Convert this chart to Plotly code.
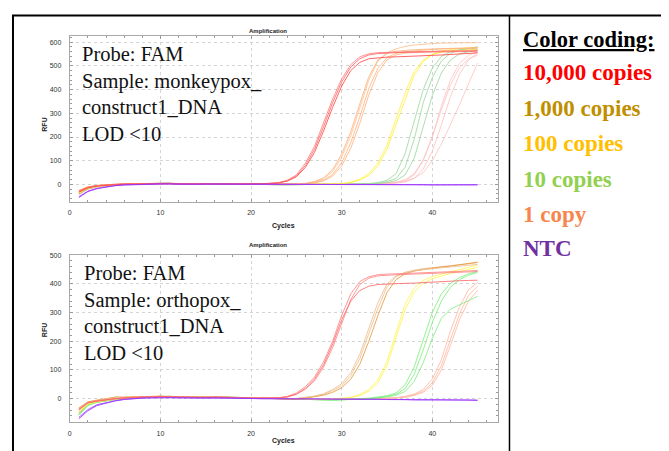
import plotly.graph_objects as go

# page body adds an 8px margin; the figure is offset to compensate
OFF = 8
W, H = 669 - OFF, 451 - OFF

cycles = list(range(1, 46))

# ---------------- Monkeypox construct (top panel) ----------------
mpx_10000_a = [-30, -13, -6, -2, 0, 1, 2, 3, 4,
               5, 4, 2, 1, 2, 3, 3, 2, 2,
               1, 2, 3, 4, 7, 18, 40, 90, 160,
               258, 360, 445, 505, 538, 551, 556, 558, 559,
               559, 560, 560, 561, 561, 562, 563, 564, 565]
mpx_10000_b = [-33, -15, -7, -3, -1, 1, 2, 3, 4,
               6, 5, 3, 1, 2, 3, 2, 2, 1,
               1, 2, 2, 4, 6, 14, 32, 72, 135,
               225, 325, 415, 480, 515, 530, 535, 537, 538,
               539, 540, 542, 544, 546, 548, 550, 552, 555]
mpx_10000_c = [-28, -12, -5, -1, 1, 2, 3, 3, 5,
               6, 4, 2, 2, 3, 3, 2, 1, 2,
               2, 3, 3, 5, 7, 15, 35, 80, 148,
               243, 345, 432, 495, 530, 546, 552, 555, 556,
               557, 557, 558, 558, 559, 560, 560, 561, 562]

mpx_1000_a = [-25, -10, -4, -1, 1, 2, 3, 4, 5,
              6, 5, 3, 2, 3, 4, 3, 2, 2,
              1, 1, 2, 2, 2, 3, 3, 4, 10,
              24, 55, 115, 205, 320, 440, 520, 555, 572,
              582, 588, 592, 594, 596, 597, 597, 598, 598]
mpx_1000_b = [-27, -11, -5, -2, 0, 2, 3, 3, 4,
              5, 4, 3, 2, 2, 3, 3, 2, 1,
              1, 1, 1, 2, 2, 2, 3, 4, 8,
              18, 42, 92, 175, 285, 405, 490, 535, 553,
              560, 564, 567, 569, 571, 572, 573, 574, 575]
mpx_1000_c = [-26, -10, -4, -1, 1, 2, 2, 3, 4,
              5, 4, 2, 1, 2, 3, 2, 2, 1,
              1, 0, 1, 1, 2, 2, 2, 3, 7,
              15, 35, 78, 152, 258, 378, 472, 525, 546,
              554, 557, 559, 561, 563, 564, 566, 567, 568]
mpx_1000_d = [-29, -12, -5, -2, 0, 1, 3, 3, 4,
              5, 5, 3, 2, 2, 3, 3, 2, 2,
              1, 1, 1, 2, 2, 3, 3, 5, 12,
              28, 62, 128, 222, 340, 455, 525, 552, 562,
              566, 568, 570, 572, 573, 574, 575, 576, 578]

mpx_100_a = [-35, -15, -7, -3, -1, 1, 2, 3, 4,
             5, 4, 3, 2, 2, 3, 3, 2, 1,
             1, 1, 0, 0, 1, 1, 1, 1, 1,
             1, 2, 3, 10, 22, 45, 90, 165, 275,
             385, 475, 525, 548, 558, 562, 565, 567, 570]
mpx_100_b = [-37, -16, -8, -3, -1, 1, 2, 2, 3,
             5, 4, 2, 1, 2, 3, 2, 2, 1,
             0, 0, 0, 0, 0, 1, 1, 1, 1,
             1, 1, 3, 8, 18, 38, 78, 148, 252,
             365, 460, 518, 548, 562, 569, 573, 576, 578]

mpx_10_a = [-38, -17, -8, -3, -1, 1, 2, 3, 4,
            6, 5, 3, 2, 3, 4, 3, 2, 1,
            1, 0, 0, -1, -1, -1, -1, 0, 0,
            0, 0, 0, 1, 2, 4, 8, 18, 45,
            130, 270, 400, 490, 540, 560, 568, 572, 575]
mpx_10_b = [-40, -18, -9, -4, -2, 0, 2, 3, 4,
            5, 4, 3, 2, 2, 3, 3, 2, 1,
            0, 0, -1, -1, -1, -1, -1, -1, 0,
            0, 0, 0, 1, 2, 3, 5, 12, 25,
            72, 190, 345, 450, 520, 553, 567, 575, 581]
mpx_10_c = [-36, -16, -7, -3, -1, 1, 2, 3, 5,
            6, 5, 3, 2, 2, 3, 2, 2, 1,
            0, 0, 0, -1, -1, -1, 0, 0, 0,
            0, 0, 0, 1, 1, 2, 4, 8, 16,
            40, 110, 240, 375, 470, 525, 550, 560, 565]

mpx_1_a = [-42, -19, -9, -4, -2, 0, 2, 3, 4,
           5, 4, 3, 2, 2, 3, 3, 2, 1,
           0, 0, 0, 0, -1, -1, -1, 0, 0,
           0, 0, 0, 1, 1, 2, 3, 4, 6,
           15, 40, 100, 200, 330, 440, 510, 545, 560]
mpx_1_b = [-44, -20, -10, -5, -2, 0, 1, 3, 4,
           5, 4, 2, 1, 2, 3, 2, 2, 1,
           0, 0, 0, -1, -1, -1, -1, -1, 0,
           0, 0, 0, 0, 1, 1, 2, 3, 5,
           10, 25, 65, 140, 250, 370, 465, 525, 555]
mpx_1_c = [-41, -18, -9, -4, -2, 0, 2, 3, 4,
           6, 5, 3, 2, 2, 3, 3, 2, 1,
           1, 0, 0, 0, -1, -1, 0, 0, 0,
           0, 0, 0, 1, 1, 2, 3, 5, 9,
           20, 45, 105, 200, 315, 420, 492, 530, 545]
mpx_1_d = [-43, -19, -10, -4, -2, 0, 1, 2, 4,
           5, 4, 2, 1, 2, 3, 2, 1, 1,
           0, 0, 0, -1, -1, -1, -1, 0, 0,
           0, 0, 0, 1, 1, 2, 3, 5, 9,
           14, 26, 50, 100, 170, 250, 335, 425, 512]

mpx_ntc_a = [-55, -30, -18, -10, -5, -2, 0, 1, 2,
             3, 2, 1, 1, 1, 2, 2, 1, 1,
             1, 0, 0, 0, 0, 0, 0, 0, 0,
             -1, -1, 0, -1, -1, 0, -1, -1, -1,
             0, -1, -1, -2, -1, -1, -2, -1, -1]
mpx_ntc_b = [-52, -28, -16, -9, -5, -2, -1, 1, 2,
             2, 2, 1, 0, 1, 1, 1, 1, 0,
             0, 0, 0, 0, -1, 0, 0, -1, 0,
             -1, 0, -1, -1, 0, -1, -1, -1, 0,
             -1, -1, 0, -1, -2, -1, -1, -1, -2]

# ---------------- Orthopox construct (bottom panel) ----------------
opx_10000_a = [-38, -14, -8, -4, 0, 3, 5, 6, 7,
               8, 8, 7, 5, 4, 5, 6, 5, 4,
               3, 3, 2, 2, 3, 8, 20, 42, 75,
               128, 200, 290, 365, 408, 425, 432, 434, 435,
               436, 437, 438, 440, 441, 442, 444, 445, 447]
opx_10000_b = [-36, -13, -7, -3, 1, 3, 5, 6, 7,
               9, 8, 6, 5, 4, 5, 6, 5, 4,
               3, 2, 2, 2, 3, 6, 15, 33, 62,
               110, 178, 265, 345, 398, 420, 428, 431, 432,
               433, 434, 435, 436, 437, 438, 440, 441, 443]
opx_10000_c = [-40, -15, -9, -4, 0, 2, 4, 6, 7,
               8, 7, 6, 4, 3, 4, 5, 5, 4,
               3, 2, 2, 2, 3, 6, 16, 36, 68,
               118, 190, 275, 340, 377, 392, 398, 400, 401,
               402, 403, 405, 407, 408, 410, 411, 412, 413]

opx_1000_a = [-34, -12, -6, -2, 6, 5, 6, 7, 8,
              8, 7, 6, 5, 5, 6, 7, 5, 4,
              3, 2, 1, 0, -1, -1, 0, 3, 8,
              15, 28, 45, 80, 140, 225, 315, 390, 425,
              440, 448, 453, 457, 461, 464, 467, 470, 474]
opx_1000_b = [-32, -11, -5, -1, 5, 5, 6, 7, 8,
              9, 7, 6, 5, 5, 6, 6, 5, 4,
              3, 2, 1, 0, -1, -1, -1, 2, 6,
              12, 22, 38, 68, 120, 200, 290, 370, 415,
              435, 445, 450, 455, 459, 462, 466, 470, 476]
opx_1000_c = [-35, -13, -6, -2, 4, 4, 6, 7, 7,
              8, 7, 6, 5, 4, 5, 6, 5, 4,
              3, 2, 1, 0, -1, 0, 1, 4, 9,
              17, 32, 52, 90, 155, 245, 335, 400, 428,
              440, 446, 450, 453, 456, 459, 462, 465, 468]

opx_100_a = [-45, -18, -10, -5, 0, 3, 5, 6, 7,
             8, 8, 6, 5, 5, 6, 6, 5, 4,
             3, 2, 1, 0, -1, -2, -2, -2, -2,
             -2, -1, 2, 5, 14, 32, 65, 130, 230,
             330, 385, 412, 425, 435, 443, 450, 458, 466]
opx_100_b = [-47, -19, -11, -5, -1, 2, 4, 6, 7,
             8, 7, 6, 5, 4, 5, 6, 5, 4,
             3, 2, 1, 0, -1, -2, -3, -3, -3,
             -2, -2, 0, 4, 11, 26, 55, 115, 210,
             310, 372, 402, 418, 428, 436, 443, 450, 458]

opx_10_a = [-55, -22, -12, -6, -2, 2, 4, 6, 7,
            8, 8, 7, 6, 5, 6, 7, 6, 5,
            4, 3, 2, 1, 0, -2, -3, -4, -5,
            -5, -5, -4, -3, -1, 2, 5, 10, 20,
            48, 110, 205, 300, 365, 402, 422, 435, 444]
opx_10_b = [-58, -24, -13, -7, -3, 1, 4, 6, 7,
            8, 7, 7, 6, 5, 6, 6, 6, 5,
            4, 3, 2, 1, 0, -2, -3, -4, -5,
            -5, -5, -4, -3, -2, 0, 3, 8, 15,
            35, 85, 170, 265, 340, 388, 415, 430, 440]
opx_10_c = [-52, -21, -12, -6, -2, 2, 4, 5, 7,
            8, 8, 6, 5, 5, 6, 6, 5, 5,
            4, 3, 2, 1, 0, -1, -3, -4, -4,
            -4, -4, -4, -3, -2, 0, 2, 6, 12,
            25, 60, 125, 210, 280, 312, 328, 342, 357]

opx_1_a = [-50, -20, -11, -6, -2, 2, 4, 6, 7,
           8, 7, 6, 5, 5, 6, 6, 5, 4,
           3, 2, 1, 0, 0, -1, -2, -2, -3,
           -3, -3, -3, -2, -1, 0, 1, 2, 3,
           8, 16, 32, 68, 135, 235, 320, 380, 405]
opx_1_b = [-48, -19, -10, -5, -2, 2, 4, 5, 7,
           8, 7, 6, 5, 4, 5, 6, 5, 4,
           3, 2, 1, 0, 0, -1, -2, -2, -3,
           -3, -3, -2, -2, -1, 0, 0, 1, 2,
           6, 13, 26, 55, 115, 205, 295, 360, 392]
opx_1_c = [-52, -21, -11, -6, -3, 1, 3, 5, 6,
           7, 7, 6, 5, 4, 5, 6, 5, 4,
           3, 2, 1, 0, 0, -1, -2, -3, -3,
           -3, -3, -3, -2, -2, -1, 0, 1, 2,
           5, 11, 22, 46, 100, 185, 275, 340, 378]

opx_ntc_a = [-70, -42, -24, -15, -8, -3, 0, 2, 3,
             4, 4, 3, 3, 2, 3, 3, 2, 2,
             1, 1, 0, 0, 0, -1, 0, -1, -1,
             -1, -1, -2, -1, -2, -2, -2, -3, -3,
             -3, -3, -4, -4, -4, -5, -5, -5, -6]
opx_ntc_b = [-65, -38, -21, -13, -7, -2, 1, 2, 3,
             4, 3, 3, 2, 2, 2, 3, 2, 1,
             1, 0, 0, 0, -1, 0, -1, -1, -1,
             -1, -2, -1, -2, -2, -2, -3, -3, -3,
             -3, -4, -3, -4, -4, -4, -5, -5, -5]

legend_labels = ["10,000 copies", "1,000 copies", "100 copies", "10 copies", "1 copy", "NTC"]
legend_colors = ["#FF0000", "#BF8F00", "#FFC000", "#92D050", "#F7864E", "#7030A0"]

top_text = ["Probe: FAM", "Sample: monkeypox_", "construct1_DNA", "LOD <10"]
bottom_text = ["Probe: FAM", "Sample: orthopox_", "construct1_DNA", "LOD <10"]

top_series = [
    (mpx_1_a, "#FFC2C2"), (mpx_1_b, "#FFC2C2"), (mpx_1_c, "#FFC2C2"), (mpx_1_d, "#FFC2C2"),
    (mpx_10_a, "#9AD89A"), (mpx_10_b, "#9AD89A"), (mpx_10_c, "#9AD89A"),
    (mpx_100_a, "#FFF23A"), (mpx_100_b, "#FFF23A"),
    (mpx_1000_a, "#FFBE8A"), (mpx_1000_b, "#FFB27A"), (mpx_1000_c, "#FFB27A"), (mpx_1000_d, "#FFB27A"),
    (mpx_10000_a, "#FF7A7A"), (mpx_10000_b, "#FF4040"), (mpx_10000_c, "#FF6060"),
    (mpx_ntc_a, "#9B30FF"), (mpx_ntc_b, "#9B30FF"),
]
bottom_series = [
    (opx_1_a, "#FFB8A0"), (opx_1_b, "#FFB8A0"), (opx_1_c, "#FFB8A0"),
    (opx_10_a, "#7CF07C"), (opx_10_b, "#7CF07C"), (opx_10_c, "#7CF07C"),
    (opx_100_a, "#FFF550"), (opx_100_b, "#FFF550"),
    (opx_1000_a, "#EDBD8E"), (opx_1000_b, "#E8952E"), (opx_1000_c, "#EDBD8E"),
    (opx_10000_a, "#FF8080"), (opx_10000_b, "#FF8080"), (opx_10000_c, "#FF6262"),
    (opx_ntc_a, "#9B30FF"), (opx_ntc_b, "#9B30FF"),
]


def PX(x):
    return (x - OFF) / W


def PY(y):
    return 1 - (y - OFF) / H


fig = go.Figure()
for vals, col in top_series:
    fig.add_trace(go.Scatter(x=cycles, y=vals, mode="lines", xaxis="x", yaxis="y",
                             line=dict(color=col, width=1), opacity=0.8,
                             showlegend=False, hoverinfo="skip"))
for vals, col in bottom_series:
    fig.add_trace(go.Scatter(x=cycles, y=vals, mode="lines", xaxis="x2", yaxis="y2",
                             line=dict(color=col, width=1), opacity=0.8,
                             showlegend=False, hoverinfo="skip"))

tickfont = dict(family="Liberation Sans, Arial", size=7, color="#333333")
common_x = dict(range=[0, 47.2], dtick=10, tick0=0, showline=True, mirror="ticks",
                linecolor="#a8a8a8", linewidth=1, showgrid=True, gridcolor="#d4d4d4",
                griddash="dot", zeroline=False, ticks="inside", ticklen=3,
                tickcolor="#999999", tickfont=tickfont, ticklabelstandoff=4,
                minor=dict(dtick=2, ticks="inside", ticklen=2, tickcolor="#999999",
                           showgrid=False))
common_y = dict(dtick=100, tick0=0, showline=True, mirror="ticks",
                linecolor="#a8a8a8", linewidth=1, showgrid=True, gridcolor="#d4d4d4",
                griddash="dot", zeroline=False, ticks="inside", ticklen=3,
                tickcolor="#999999", tickfont=tickfont, ticklabelstandoff=6,
                minor=dict(dtick=20, ticks="inside", ticklen=2, tickcolor="#999999",
                           showgrid=False))

xd = [PX(68), PX(497)]
fig.update_layout(
    width=W, height=H, margin=dict(l=0, r=0, t=0, b=0),
    paper_bgcolor="white", plot_bgcolor="white",
    xaxis=dict(domain=xd, anchor="y", **common_x),
    yaxis=dict(domain=[PY(200.3), PY(32.7)], anchor="x", range=[-74, 628], **common_y),
    xaxis2=dict(domain=xd, anchor="y2", **common_x),
    yaxis2=dict(domain=[PY(422.3), PY(253.3)], anchor="x2", range=[-83, 502], **common_y),
)

ann = []
lab = dict(family="Liberation Sans, Arial", size=7, color="#222222")
for ty, cy, ry in [(23, 224, 113), (243.5, 446.5, 338)]:
    ann.append(dict(x=PX(267), y=PY(ty), text="<b>Amplification</b>", showarrow=False,
                    xref="paper", yref="paper", font=dict(family="Liberation Sans, Arial",
                                                          size=6, color="#222222")))
    ann.append(dict(x=PX(282), y=PY(cy), text="<b>Cycles</b>", showarrow=False,
                    xref="paper", yref="paper", font=lab))
    ann.append(dict(x=PX(37), y=PY(ry), text="<b>RFU</b>", showarrow=False, textangle=-90,
                    xref="paper", yref="paper", font=lab))

serif = "Liberation Serif, Times New Roman, serif"
ann.append(dict(x=PX(78), y=PY(92), xanchor="left", yanchor="middle", align="left",
                text="<br>".join(top_text), showarrow=False, xref="paper", yref="paper",
                font=dict(family=serif, size=20.5, color="#111111")))
ann.append(dict(x=PX(80), y=PY(312), xanchor="left", yanchor="middle", align="left",
                text="<br>".join(bottom_text), showarrow=False, xref="paper", yref="paper",
                font=dict(family=serif, size=20.5, color="#111111")))

ann.append(dict(x=PX(521), y=PY(36.5), xanchor="left", yanchor="middle",
                text="<b><u>Color coding:</u></b>", showarrow=False, xref="paper", yref="paper",
                font=dict(family=serif, size=22.5, color="#000000")))
leg_y = [70, 106, 141.5, 177.5, 213, 247]
for t, c, yy in zip(legend_labels, legend_colors, leg_y):
    ann.append(dict(x=PX(521), y=PY(yy), xanchor="left", yanchor="middle",
                    text="<b>" + t + "</b>", showarrow=False, xref="paper", yref="paper",
                    font=dict(family=serif, size=23, color=c)))
fig.update_layout(annotations=ann)

shapes = [
    dict(type="line", xref="paper", yref="paper", x0=PX(10), x1=1, y0=PY(12.5), y1=PY(12.5),
         line=dict(color="black", width=2)),
    dict(type="line", xref="paper", yref="paper", x0=PX(11), x1=PX(11), y0=PY(12), y1=0,
         line=dict(color="black", width=2)),
    dict(type="line", xref="paper", yref="paper", x0=PX(509), x1=PX(509), y0=PY(12), y1=0,
         line=dict(color="black", width=1.5)),
]
fig.update_layout(shapes=shapes)

fig.write_html("out.html")
